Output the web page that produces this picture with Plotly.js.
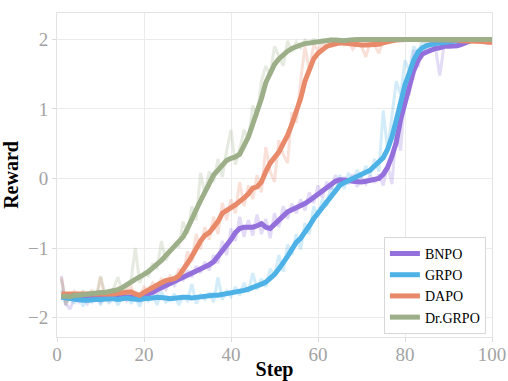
<!DOCTYPE html>
<html>
<head>
<meta charset="utf-8">
<script src="https://cdn.plot.ly/plotly-3.0.1.min.js"></script>
<style>html,body{margin:0;padding:0;background:#fff;}#chart{width:508px;height:381px;}</style>
</head>
<body>
<div id="chart"></div>
<script>
const steps = Array.from({length: 100}, (_, i) => i + 1);
const seriesNames = ["BNPO", "GRPO", "DAPO", "Dr.GRPO"];
const seriesColors = ["#9370DB", "#4EB2E6", "#E8896A", "#9CAF88"];

const bnpoSmooth = [
-1.70,-1.71,-1.72,-1.74,-1.74,-1.73,-1.73,-1.72,-1.72,-1.72,
-1.72,-1.71,-1.71,-1.70,-1.71,-1.70,-1.70,-1.69,-1.70,-1.68,
-1.66,-1.64,-1.60,-1.57,-1.53,-1.50,-1.47,-1.44,-1.41,-1.38,
-1.36,-1.33,-1.30,-1.28,-1.24,-1.20,-1.12,-1.05,-0.98,-0.88,
-0.78,-0.72,-0.70,-0.70,-0.70,-0.68,-0.65,-0.70,-0.72,-0.66,
-0.60,-0.54,-0.48,-0.45,-0.42,-0.40,-0.36,-0.32,-0.27,-0.22,
-0.18,-0.14,-0.08,-0.04,-0.02,-0.02,-0.03,-0.04,-0.05,-0.05,
-0.04,-0.03,-0.01,0.00,0.06,0.16,0.32,0.52,0.85,1.10,
1.32,1.55,1.70,1.79,1.82,1.85,1.87,1.88,1.90,1.90,
1.90,1.91,1.93,1.96,1.98,1.99,2.00,2.00,2.00,2.00];

const grpoSmooth = [
-1.71,-1.72,-1.73,-1.74,-1.74,-1.75,-1.75,-1.74,-1.74,-1.74,
-1.73,-1.73,-1.73,-1.74,-1.73,-1.72,-1.73,-1.74,-1.74,-1.73,
-1.73,-1.72,-1.71,-1.71,-1.72,-1.73,-1.72,-1.71,-1.71,-1.71,
-1.72,-1.71,-1.70,-1.70,-1.69,-1.68,-1.68,-1.67,-1.66,-1.65,
-1.64,-1.63,-1.61,-1.59,-1.57,-1.55,-1.52,-1.49,-1.44,-1.38,
-1.30,-1.22,-1.12,-1.02,-0.92,-0.86,-0.78,-0.68,-0.58,-0.50,
-0.42,-0.33,-0.24,-0.16,-0.10,-0.06,-0.03,-0.01,0.03,0.06,
0.09,0.12,0.18,0.23,0.30,0.42,0.60,0.84,1.10,1.35,
1.52,1.70,1.82,1.88,1.91,1.93,1.94,1.95,1.96,1.97,
1.97,1.98,1.98,1.99,1.99,2.00,2.00,2.00,2.00,2.00];

const dapoSmooth = [
-1.66,-1.66,-1.67,-1.66,-1.66,-1.67,-1.67,-1.66,-1.66,-1.66,
-1.67,-1.66,-1.66,-1.65,-1.64,-1.63,-1.63,-1.66,-1.68,-1.64,
-1.60,-1.56,-1.52,-1.50,-1.47,-1.45,-1.44,-1.40,-1.32,-1.22,
-1.12,-1.00,-0.90,-0.82,-0.78,-0.70,-0.62,-0.50,-0.45,-0.42,
-0.38,-0.34,-0.28,-0.22,-0.14,-0.12,-0.05,0.10,0.22,0.30,
0.38,0.50,0.62,0.78,0.95,1.15,1.40,1.55,1.72,1.80,
1.86,1.90,1.92,1.94,1.95,1.95,1.94,1.93,1.93,1.92,
1.92,1.92,1.92,1.93,1.95,1.97,1.98,1.99,2.00,2.00,
2.00,2.00,2.00,2.00,2.00,1.99,1.99,1.99,1.99,1.99,
1.99,1.99,1.98,1.98,1.98,1.98,1.97,1.97,1.96,1.96];

const drgrpoSmooth = [
-1.70,-1.69,-1.70,-1.68,-1.68,-1.67,-1.66,-1.65,-1.65,-1.64,
-1.64,-1.63,-1.62,-1.60,-1.57,-1.52,-1.49,-1.45,-1.42,-1.38,
-1.34,-1.29,-1.24,-1.18,-1.11,-1.04,-0.98,-0.92,-0.84,-0.72,
-0.60,-0.45,-0.32,-0.20,-0.05,0.05,0.12,0.20,0.26,0.29,
0.31,0.35,0.48,0.60,0.78,0.95,1.15,1.38,1.52,1.64,
1.72,1.78,1.83,1.87,1.90,1.92,1.94,1.95,1.96,1.97,
1.98,1.98,1.99,1.99,1.98,1.98,1.99,2.00,2.00,2.00,
2.00,2.00,2.00,2.00,1.99,2.00,2.00,2.00,2.00,2.00,
2.00,2.00,2.00,2.00,2.00,2.00,2.00,2.00,2.00,2.00,
2.00,2.00,2.00,2.00,2.00,2.00,2.00,2.00,2.00,2.00];

const bnpoRaw = [
-1.40,-1.80,-1.88,-1.70,-1.78,-1.68,-1.80,-1.72,-1.66,-1.78,
-1.70,-1.76,-1.68,-1.74,-1.66,-1.76,-1.70,-1.64,-1.78,-1.66,
-1.72,-1.58,-1.66,-1.52,-1.60,-1.46,-1.54,-1.40,-1.46,-1.32,
-1.42,-1.26,-1.36,-1.20,-1.32,-1.10,-1.22,-0.90,-1.10,-0.72,
-0.90,-0.55,-0.84,-0.60,-0.82,-0.52,-0.80,-0.58,-0.86,-0.50,
-0.70,-0.40,-0.58,-0.36,-0.50,-0.30,-0.46,-0.20,-0.35,-0.10,
-0.28,-0.05,-0.16,0.05,-0.10,0.02,-0.08,0.06,-0.12,0.00,
-0.08,0.04,-0.06,0.06,-0.10,0.20,-0.08,0.70,0.40,1.30,
1.20,1.85,1.60,1.90,1.80,1.95,1.88,1.48,1.92,1.96,
1.90,1.98,1.95,2.00,1.97,2.00,1.98,2.01,2.00,2.00];

const grpoRaw = [
-1.60,-1.82,-1.70,-1.80,-1.68,-1.84,-1.72,-1.78,-1.66,-1.82,
-1.70,-1.80,-1.68,-1.82,-1.70,-1.64,-1.80,-1.72,-1.84,-1.68,
-1.76,-1.66,-1.82,-1.62,-1.78,-1.74,-1.66,-1.82,-1.70,-1.76,
-1.52,-1.80,-1.68,-1.74,-1.64,-1.78,-1.42,-1.74,-1.62,-1.70,
-1.56,-1.68,-1.50,-1.64,-1.36,-1.60,-1.44,-1.56,-1.30,-1.40,
-1.10,-1.34,-0.95,-1.10,-0.80,-1.02,-0.64,-0.80,-0.40,-0.55,
-0.30,-0.40,-0.10,-0.22,0.05,-0.15,0.08,-0.05,0.12,0.02,
0.18,0.05,0.28,0.10,0.98,0.40,0.90,1.40,1.20,1.70,
1.55,1.90,1.80,1.98,1.92,1.99,1.96,2.00,1.97,1.99,
1.98,2.00,1.97,2.00,1.99,2.00,1.98,2.00,2.00,2.01];

const dapoRaw = [
-1.42,-1.82,-1.68,-1.62,-1.70,-1.64,-1.72,-1.60,-1.74,-1.42,
-1.70,-1.64,-1.72,-1.58,-1.66,-1.60,-1.55,-1.74,-1.70,-1.56,
-1.62,-1.50,-1.56,-1.44,-1.50,-1.40,-1.48,-1.30,-1.38,-1.05,
-1.20,-0.80,-1.02,-0.70,-0.88,-0.55,-0.80,-0.35,-0.60,-0.30,
-0.50,-0.05,-0.40,-0.10,-0.30,0.05,-0.20,0.45,0.10,-0.05,
0.55,0.35,0.22,0.95,0.80,1.40,1.90,1.55,1.92,1.85,
1.95,1.88,1.96,1.94,1.99,1.92,1.97,1.86,1.95,1.90,
1.75,1.96,1.92,1.80,1.98,2.00,1.99,2.01,2.00,1.99,
2.01,2.00,1.99,2.00,2.01,1.98,2.00,2.00,1.99,2.00,
1.99,2.00,1.98,2.00,1.97,1.99,2.00,1.95,1.98,1.94];

const drgrpoRaw = [
-1.45,-1.78,-1.72,-1.66,-1.70,-1.62,-1.68,-1.64,-1.72,-1.40,
-1.66,-1.70,-1.58,-1.42,-1.62,-1.55,-1.48,-1.00,-1.50,-1.36,
-1.40,-1.22,-1.30,-0.90,-1.18,-1.06,-0.96,-0.98,-0.62,-0.80,
-0.40,-0.60,0.08,-0.22,0.10,-0.05,0.28,0.02,0.40,0.70,
0.20,0.42,0.70,0.55,1.05,0.90,1.40,1.62,1.48,1.90,
1.75,1.62,1.98,1.82,1.96,1.88,1.99,1.94,2.00,1.96,
2.00,1.97,2.01,1.98,1.93,1.99,2.00,2.01,1.99,2.00,
2.00,1.99,2.00,2.01,1.98,2.00,2.00,1.99,2.01,2.00,
2.00,2.01,1.99,2.00,2.00,1.99,2.01,2.00,2.00,1.99,
2.00,2.01,2.00,1.99,2.00,2.00,2.01,2.00,1.99,2.00];

const xTicks = [0, 20, 40, 60, 80, 100];
const yTicks = [-2, -1, 0, 1, 2];
const xTickText = ["0", "20", "40", "60", "80", "100"];
const yTickText = ["\u22122", "\u22121", "0", "1", "2"];

const rawSets = [bnpoRaw, grpoRaw, dapoRaw, drgrpoRaw];
const smoothSets = [bnpoSmooth, grpoSmooth, dapoSmooth, drgrpoSmooth];

const traces = [];
rawSets.forEach((ys, i) => {
  traces.push({x: steps, y: ys, type: 'scatter', mode: 'lines', showlegend: false,
    hoverinfo: 'skip', opacity: 0.25, line: {color: seriesColors[i], width: 3}});
});
smoothSets.forEach((ys, i) => {
  traces.push({x: steps, y: ys, type: 'scatter', mode: 'lines', name: seriesNames[i],
    line: {color: seriesColors[i], width: 5}});
});

const SERIF = '"Liberation Serif", "Times New Roman", Times, serif';

const layout = {
  width: 508, height: 381,
  font: {family: SERIF, size: 19, color: '#a3a3a3'},
  margin: {l: 57, r: 16, t: 13, b: 44},
  paper_bgcolor: '#ffffff', plot_bgcolor: '#ffffff',
  xaxis: {
    range: [0, 100], tickmode: 'array', tickvals: xTicks, ticktext: xTickText,
    showgrid: true, gridcolor: '#ebebeb', gridwidth: 1,
    showline: true, linecolor: '#e3e3e3', linewidth: 1, mirror: true,
    ticks: 'outside', ticklen: 4, tickcolor: '#dcdcdc', zeroline: false,
    ticklabelstandoff: -4,
    tickfont: {family: SERIF, size: 19, color: '#a3a3a3'},
    title: {text: '<b>Step</b>', standoff: 6, font: {family: SERIF, size: 20, color: '#000'}}
  },
  yaxis: {
    range: [-2.28, 2.38], tickmode: 'array', tickvals: yTicks, ticktext: yTickText,
    showgrid: true, gridcolor: '#ebebeb', gridwidth: 1,
    showline: true, linecolor: '#e3e3e3', linewidth: 1, mirror: true,
    ticks: 'outside', ticklen: 4, tickcolor: '#dcdcdc', zeroline: false,
    tickfont: {family: SERIF, size: 19, color: '#a3a3a3'},
    title: {text: '<b>Reward</b>', standoff: 3, font: {family: SERIF, size: 20, color: '#000'}}
  },
  legend: {
    x: 0.986, y: 0.0095, xanchor: 'right', yanchor: 'bottom',
    bgcolor: '#ffffff', bordercolor: '#d8d8d8', borderwidth: 1,
    font: {family: SERIF, size: 14, color: '#000'}
  },
  showlegend: true
};

Plotly.newPlot('chart', traces, layout, {displayModeBar: false, staticPlot: true});
</script>
</body>
</html>
